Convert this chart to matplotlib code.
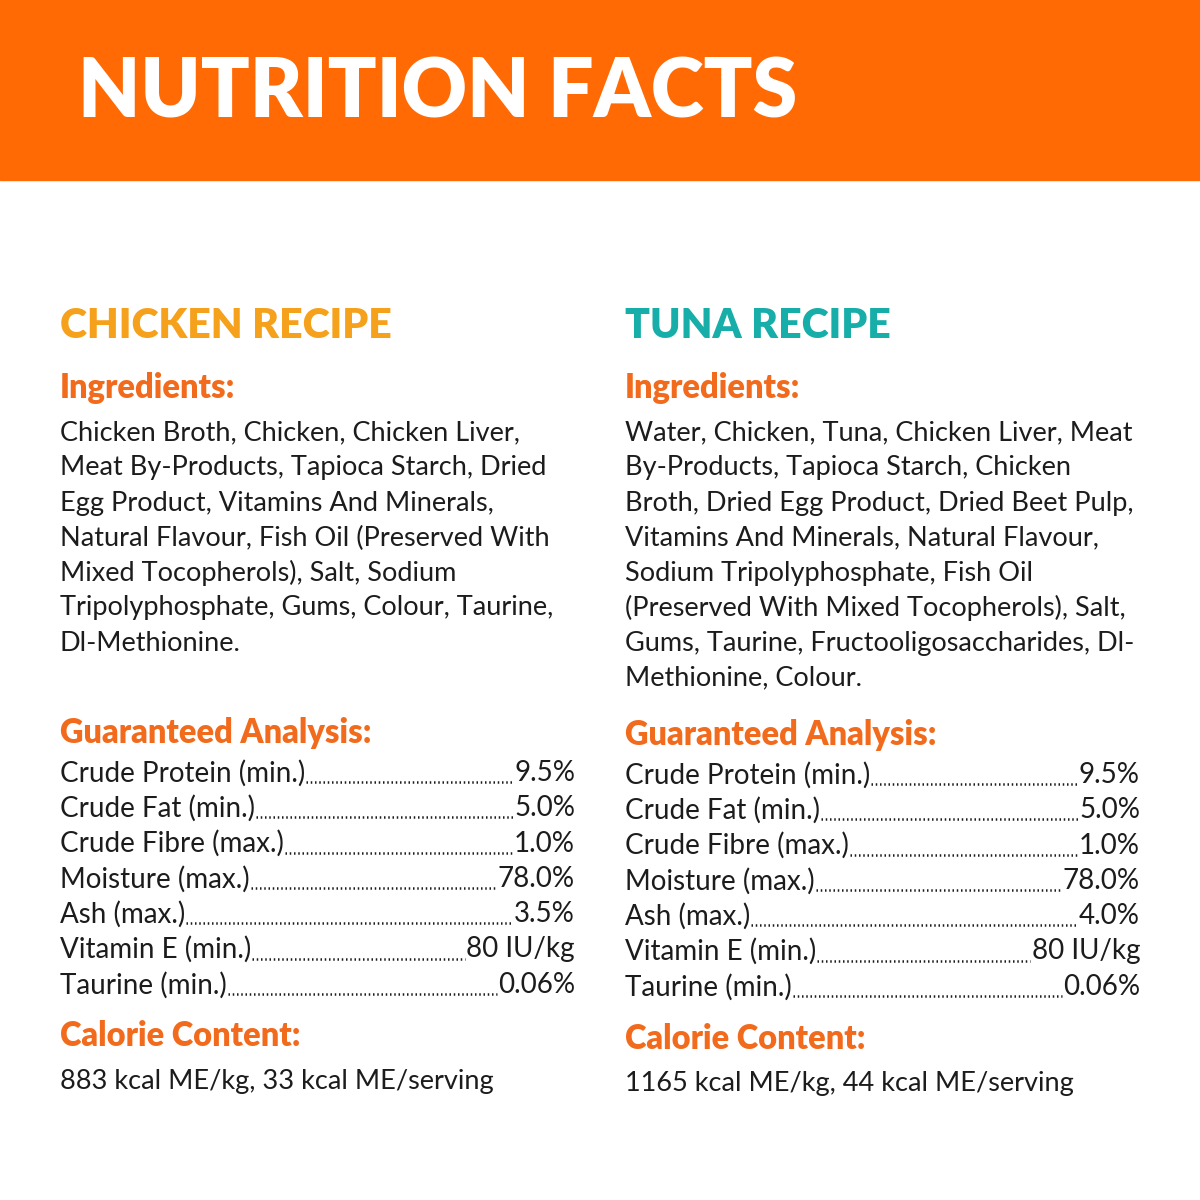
import matplotlib
matplotlib.use("Agg")
import matplotlib.pyplot as plt
from matplotlib.patches import Rectangle
from matplotlib.lines import Line2D

title = "NUTRITION FACTS"
recipes = ["CHICKEN RECIPE", "TUNA RECIPE"]
ingredients = [
    ["Chicken Broth, Chicken, Chicken Liver,", "Meat By-Products, Tapioca Starch, Dried",
     "Egg Product, Vitamins And Minerals,", "Natural Flavour, Fish Oil (Preserved With",
     "Mixed Tocopherols), Salt, Sodium", "Tripolyphosphate, Gums, Colour, Taurine,",
     "Dl-Methionine."],
    ["Water, Chicken, Tuna, Chicken Liver, Meat", "By-Products, Tapioca Starch, Chicken",
     "Broth, Dried Egg Product, Dried Beet Pulp,", "Vitamins And Minerals, Natural Flavour,",
     "Sodium Tripolyphosphate, Fish Oil", "(Preserved With Mixed Tocopherols), Salt,",
     "Gums, Taurine, Fructooligosaccharides, Dl-", "Methionine, Colour."],
]
analysis_labels = ["Crude Protein (min.)", "Crude Fat (min.)", "Crude Fibre (max.)",
                   "Moisture (max.)", "Ash (max.)", "Vitamin E (min.)", "Taurine (min.)"]
analysis_values = [["9.5%", "5.0%", "1.0%", "78.0%", "3.5%", "80 IU/kg", "0.06%"],
                   ["9.5%", "5.0%", "1.0%", "78.0%", "4.0%", "80 IU/kg", "0.06%"]]
calories = ["883 kcal ME/kg, 33 kcal ME/serving", "1165 kcal ME/kg, 44 kcal ME/serving"]

ORANGE = "#FF6A05"
HEAD = "#F26B1D"
TITLE_COLORS = ["#F5A11C", "#17ADA8"]
TXT = "#1c1c1c"
FONT = "Lato"

W = H = 1200
fig = plt.figure(figsize=(12, 12), dpi=100)
fig.patch.set_facecolor("white")
fig.patches.append(Rectangle((0, 1 - 180 / H), 1, 180 / H, transform=fig.transFigure,
                             color=ORANGE, zorder=0))

def T(x, y, s, **kw):
    kw.setdefault("family", FONT)
    return fig.text(x / W, 1 - y / H, s, va="center", **kw)

T(78, 94, title, fontsize=58, weight="heavy", color="white")

renderer = fig.canvas.get_renderer()
cols = [60, 625]
rights = [575, 1140]
ana_start = [773, 775]
ing_head = 388
ana_head = [733, 735]
cal_head = [1036, 1039]
cal_y = [1081, 1084]
for i in range(2):
    x = cols[i]
    T(x, 326, recipes[i], fontsize=29.5, weight="heavy", color=TITLE_COLORS[i])
    T(x, ing_head, "Ingredients:", fontsize=23.5, weight="heavy", color=HEAD)
    for k, line in enumerate(ingredients[i]):
        T(x, 433 + 35 * k, line, fontsize=19.5, color=TXT)
    T(x, ana_head[i], "Guaranteed Analysis:", fontsize=23.5, weight="heavy", color=HEAD)
    for k, (lab, val) in enumerate(zip(analysis_labels, analysis_values[i])):
        y = ana_start[i] + 35.3 * k
        t1 = T(x, y, lab, fontsize=20, color=TXT)
        t2 = T(rights[i], y, val, fontsize=20, color=TXT, ha="right")
        b1 = t1.get_window_extent(renderer)
        b2 = t2.get_window_extent(renderer)
        yb = 1 - (y + 9) / H
        fig.lines.append(Line2D([b1.x1 / W + 0.001, b2.x0 / W - 0.001], [yb, yb],
                                transform=fig.transFigure, color=TXT, lw=1.8,
                                linestyle=(0, (0.6, 1.1))))
    T(x, cal_head[i], "Calorie Content:", fontsize=23.5, weight="heavy", color=HEAD)
    T(x, cal_y[i], calories[i], fontsize=19.5, color=TXT)

fig.savefig("out.png", dpi=100, facecolor="white")
